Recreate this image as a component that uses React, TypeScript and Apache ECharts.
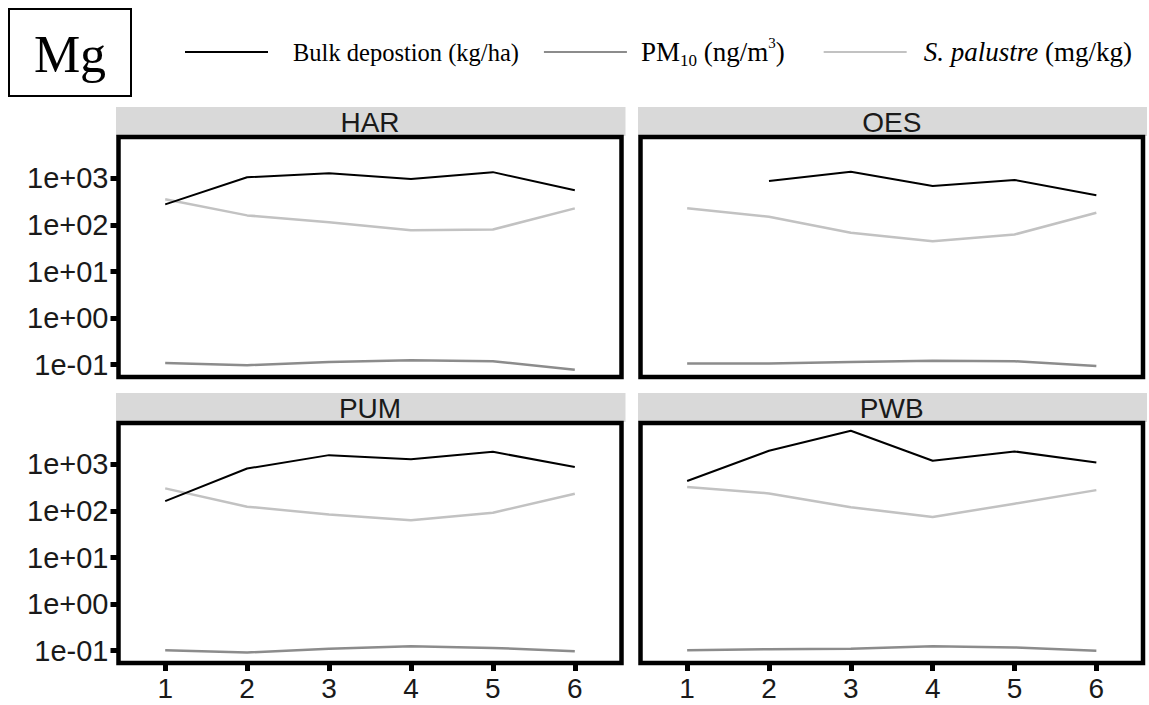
import React, { useEffect, useRef } from "react";
import * as echarts from "echarts";

// ---------- data ----------
const XS = [1, 2, 3, 4, 5, 6];
const SITES = ["HAR", "OES", "PUM", "PWB"];
const Y_TICKS = [0.1, 1, 10, 100, 1000];

const BULK_HAR = [278, 1065, 1300, 970, 1370, 560];
const BULK_OES = [null, 888, 1390, 692, 933, 436];
const BULK_PUM = [163, 819, 1590, 1300, 1870, 887];
const BULK_PWB = [443, 1970, 5330, 1200, 1910, 1100];

const PM_HAR = [0.108, 0.097, 0.114, 0.124, 0.118, 0.077];
const PM_OES = [0.105, 0.105, 0.114, 0.12, 0.118, 0.093];
const PM_PUM = [0.102, 0.091, 0.11, 0.124, 0.114, 0.097];
const PM_PWB = [0.102, 0.107, 0.11, 0.124, 0.117, 0.099];

const SP_HAR = [357, 161, 115, 77, 80, 228];
const SP_OES = [228, 151, 68, 45, 62.5, 184];
const SP_PUM = [307, 124, 84, 63, 92, 236];
const SP_PWB = [328, 239, 121, 74, 144, 281];

const BULK = [BULK_HAR, BULK_OES, BULK_PUM, BULK_PWB];
const PM = [PM_HAR, PM_OES, PM_PUM, PM_PWB];
const SP = [SP_HAR, SP_OES, SP_PUM, SP_PWB];

const NAME_BULK = "Bulk depostion (kg/ha)";
const NAME_PM = "PM10 (ng/m3)";
const NAME_SP = "S. palustre (mg/kg)";

const COL_BULK = "#000000";
const COL_PM = "#8c8c8c";
const COL_SP = "#c2c2c2";

// ---------- layout ----------
const GRIDS = [
  { left: 118.5, top: 137, width: 503, height: 240 },
  { left: 640.5, top: 137, width: 502.5, height: 240 },
  { left: 118.5, top: 423, width: 503, height: 240 },
  { left: 640.5, top: 423, width: 502.5, height: 240 },
];

const SANS = "'Liberation Sans', Arial, sans-serif";
const SERIF = "'Liberation Serif', 'Times New Roman', serif";

const toPairs = (arr: (number | null)[]) =>
  XS.map((x, i) => [x, arr[i]]).filter((p) => p[1] != null);

const expLabel = (v: number) => {
  const e = Math.round(Math.log10(v));
  return "1e" + (e < 0 ? "-" : "+") + String(Math.abs(e)).padStart(2, "0");
};

export default function App() {
  const ref = useRef<HTMLDivElement>(null);
  useEffect(() => {
    if (!ref.current) return;
    const chart = echarts.init(ref.current, undefined, { renderer: "svg" });

    const series: any[] = [];
    SITES.forEach((_, i) => {
      const mk = (name: string, data: any[], color: string, width: number, z: number) => ({
        type: "line",
        name,
        xAxisIndex: i,
        yAxisIndex: i,
        data,
        showSymbol: false,
        symbol: "none",
        color,
        itemStyle: { color },
        lineStyle: { color, width },
        z,
      });
      series.push(mk(NAME_SP, toPairs(SP[i]), COL_SP, 2.5, 3));
      series.push(mk(NAME_PM, toPairs(PM[i]), COL_PM, 2.5, 4));
      series.push(mk(NAME_BULK, toPairs(BULK[i]), COL_BULK, 2, 5));
    });

    const graphic: any[] = [
      {
        type: "rect",
        shape: { x: 9, y: 9, width: 122, height: 87 },
        style: { fill: "#fff", stroke: "#000", lineWidth: 2 },
      },
      {
        type: "text",
        x: 70,
        y: 54,
        style: {
          text: "Mg",
          font: "52px 'Liberation Serif'",
          fill: "#000",
          align: "center",
          verticalAlign: "middle",
        },
      },
    ];
    GRIDS.forEach((g, i) => {
      graphic.push({
        type: "rect",
        z: -1,
        shape: { x: g.left - 2.5, y: g.top - 30, width: g.width + 6.5, height: 29 },
        style: { fill: "#d9d9d9" },
      });
      graphic.push({
        type: "text",
        x: g.left + g.width / 2,
        y: g.top - 15,
        style: {
          text: SITES[i],
          font: "28px 'Liberation Sans'",
          fill: "#1a1a1a",
          align: "center",
          verticalAlign: "middle",
        },
      });
    });

    chart.setOption({
      animation: false,
      textStyle: { fontFamily: SANS },
      legend: {
        left: 180,
        top: 30,
        icon: "rect",
        itemWidth: 83,
        itemHeight: 2,
        itemGap: 25,
        data: [
          { name: NAME_BULK, textStyle: { padding: [0, 7, 0, 20] } },
          { name: NAME_PM, textStyle: { padding: [0, 0, 0, 9] } },
          { name: NAME_SP, textStyle: { padding: [0, 0, 0, 12] } },
        ],
        formatter: (name: string) => {
          if (name === NAME_PM) return "{b|PM}{sub|10}{b| (ng/m}{sup|3}{b|)}{g| }";
          if (name === NAME_SP) return "{i|S. palustre}{b| (mg/kg)}";
          return "{a|" + name + "}";
        },
        textStyle: {
          fontFamily: SERIF,
          fontSize: 24,
          color: "#000",
          rich: {
            a: { fontFamily: SERIF, fontSize: 24.5, color: "#000", lineHeight: 34 },
            b: { fontFamily: SERIF, fontSize: 27, color: "#000", lineHeight: 34 },
            i: { fontFamily: SERIF, fontSize: 27, fontStyle: "italic", color: "#000", lineHeight: 34 },
            sub: { fontFamily: SERIF, fontSize: 17, color: "#000", verticalAlign: "bottom", lineHeight: 25 },
            sup: { fontFamily: SERIF, fontSize: 15, color: "#000", verticalAlign: "top", lineHeight: 18 },
            g: { fontFamily: SERIF, fontSize: 10, width: 14, lineHeight: 34 },
          },
        },
      },
      grid: GRIDS.map((g) => ({
        ...g,
        show: true,
        borderColor: "#000",
        borderWidth: 4.5,
        backgroundColor: "transparent",
        containLabel: false,
      })),
      xAxis: GRIDS.map((_, i) => ({
        type: "value",
        gridIndex: i,
        min: 0.43,
        max: 6.57,
        axisLine: { show: false },
        splitLine: { show: false },
        axisTick: {
          show: i >= 2,
          length: 8,
          customValues: XS,
          lineStyle: { width: 5, color: "#000" },
        },
        axisLabel: {
          show: i >= 2,
          customValues: XS,
          formatter: (v: number) => String(v),
          fontFamily: SANS,
          fontSize: 28,
          color: "#1a1a1a",
          margin: 11,
        },
      })),
      yAxis: GRIDS.map((_, i) => ({
        type: "log",
        logBase: 10,
        gridIndex: i,
        min: 0.054,
        max: 7800,
        axisLine: { show: false },
        splitLine: { show: false },
        axisTick: {
          show: i % 2 === 0,
          length: 8,
          customValues: Y_TICKS,
          lineStyle: { width: 5, color: "#000" },
        },
        axisLabel: {
          show: i % 2 === 0,
          customValues: Y_TICKS,
          formatter: (v: number) => expLabel(v),
          fontFamily: SANS,
          fontSize: 29,
          color: "#1a1a1a",
          margin: 10,
        },
      })),
      graphic,
      series,
    });
    return () => chart.dispose();
  }, []);
  return (
    <div
      ref={ref}
      style={{ position: "fixed", left: 0, top: 0, width: 1149, height: 705, background: "#fff" }}
    />
  );
}
